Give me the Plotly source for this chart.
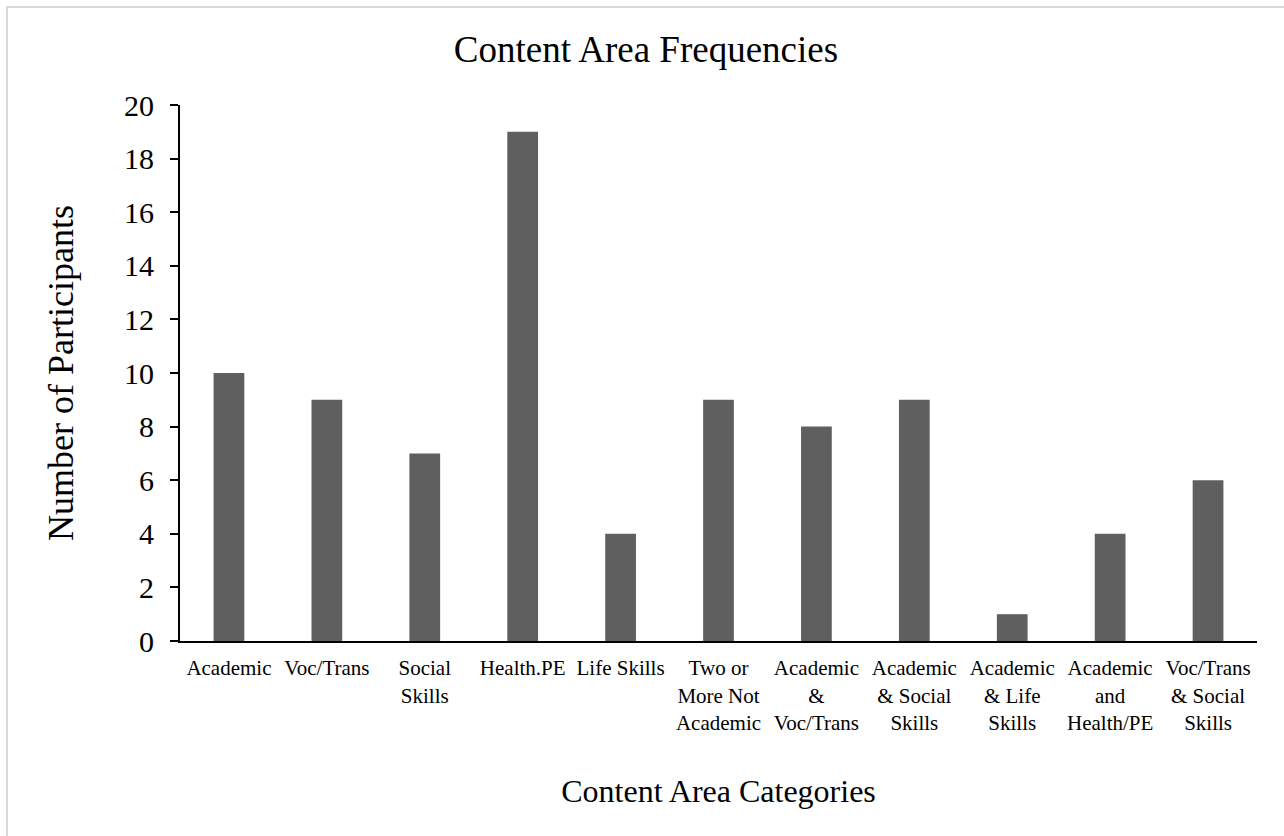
import plotly.graph_objects as go

categories = [
    "Academic", "Voc/Trans", "Social<br>Skills", "Health.PE", "Life Skills",
    "Two or<br>More Not<br>Academic", "Academic<br>&<br>Voc/Trans",
    "Academic<br>& Social<br>Skills", "Academic<br>& Life<br>Skills",
    "Academic<br>and<br>Health/PE", "Voc/Trans<br>& Social<br>Skills",
]
participants = [10, 9, 7, 19, 4, 9, 8, 9, 1, 4, 6]
y_ticks = list(range(0, 21, 2))

FONT = "Liberation Serif, Times New Roman, serif"

W, H = 1284, 836
L, R, T, B = 180, 27, 105, 195
plot_w, plot_h = W - L - R, H - T - B


def px_x(px):
    return (px - L) / plot_w


def px_y(py):
    return (H - B - py) / plot_h


fig = go.Figure(
    go.Bar(
        x=categories,
        y=participants,
        marker=dict(color="#5f5f5f", line=dict(width=0)),
        width=0.314,
    )
)

fig.update_layout(
    width=W,
    height=H,
    margin=dict(l=L, r=R, t=T, b=B),
    paper_bgcolor="white",
    plot_bgcolor="white",
    showlegend=False,
    font=dict(family=FONT, color="black"),
    title=dict(
        text="Content Area Frequencies",
        font=dict(family=FONT, size=37, color="black"),
        x=646 / W,
        xanchor="center",
        y=1 - 49 / H,
        yanchor="middle",
        yref="container",
    ),
    xaxis=dict(
        type="category",
        showgrid=False,
        showline=True,
        linecolor="black",
        linewidth=2,
        ticks="",
        tickangle=0,
        tickfont=dict(family=FONT, size=21, color="black"),
        ticklabelstandoff=7,
        title=dict(
            text="Content Area Categories",
            font=dict(family=FONT, size=32, color="black"),
            standoff=46,
        ),
        range=[-0.5, len(categories) - 0.5],
    ),
    yaxis=dict(
        range=[0, 20],
        tickvals=y_ticks,
        showgrid=False,
        zeroline=False,
        showline=True,
        linecolor="black",
        linewidth=2,
        ticks="outside",
        ticklen=8,
        tickwidth=2,
        tickcolor="black",
        tickfont=dict(family=FONT, size=30, color="black"),
        ticklabelstandoff=10,
        title=dict(
            text="Number of Participants",
            font=dict(family=FONT, size=36, color="black"),
            standoff=39,
        ),
    ),
    shapes=[
        dict(
            type="rect",
            xref="paper",
            yref="paper",
            x0=px_x(7),
            x1=px_x(W + 10),
            y0=px_y(H + 10),
            y1=px_y(7),
            line=dict(color="#d9d9d9", width=2),
            fillcolor="rgba(0,0,0,0)",
            layer="below",
        )
    ],
)

fig.write_html("out.html")
